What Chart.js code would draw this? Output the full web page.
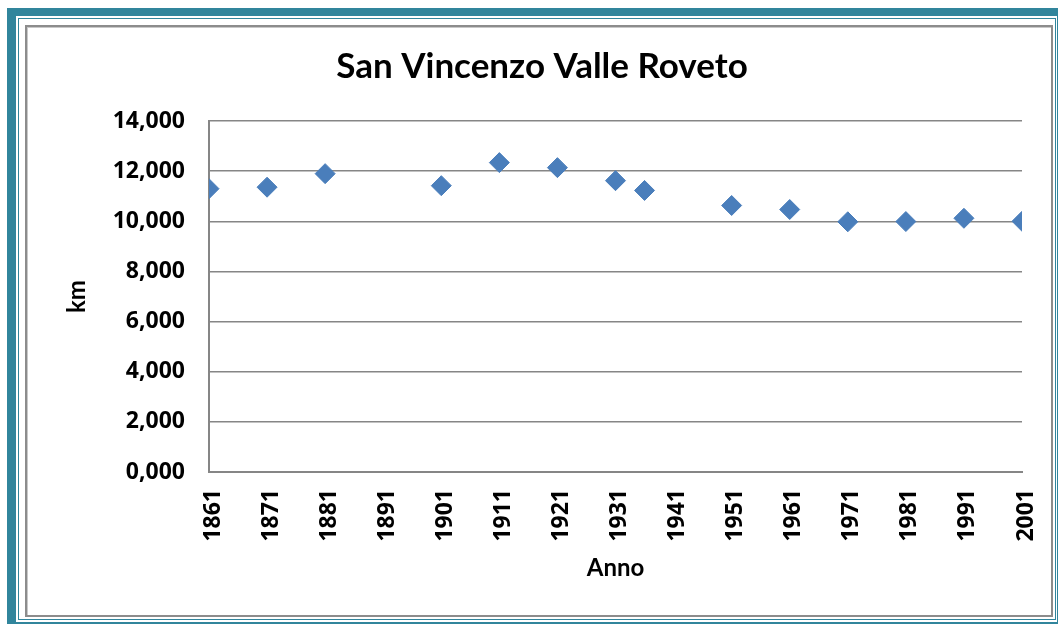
<!DOCTYPE html>
<html>
<head>
<meta charset="utf-8">
<script src="https://cdn.jsdelivr.net/npm/chart.js@4"></script>
<style>
  html, body { margin: 0; padding: 0; background: #ffffff; }
  #wrap { position: relative; width: 1058px; height: 624px; overflow: hidden; }
  .b { position: absolute; box-sizing: border-box; }
  #outer { left: 7px; top: 8px; width: 1051px; height: 616px;
           border-style: solid; border-color: #31859C; border-width: 8px 1px 2px 9px; }
  #thin { left: 18px; top: 18px; width: 1038px; height: 602px; border: 1px solid #31859C; }
  #gray { left: 25px; top: 25px; width: 1028px; height: 592px;
          border: 2px solid #8c8c8c; box-shadow: inset 1px 1px 0 #c8c8c8; }
  canvas { position: absolute; left: 0; top: 0; }
</style>
</head>
<body>
<div id="wrap">
  <div class="b" id="outer"></div>
  <div class="b" id="thin"></div>
  <div class="b" id="gray"></div>
  <canvas id="c" width="1058" height="624"></canvas>
</div>
<script>
const chartTitle = 'San Vincenzo Valle Roveto';
const xTitle = 'Anno';
const yTitle = 'km';
const years = [1861, 1871, 1881, 1901, 1911, 1921, 1931, 1936, 1951, 1961, 1971, 1981, 1991, 2001];
const values = [11.30, 11.36, 11.90, 11.42, 12.34, 12.14, 11.62, 11.23, 10.63, 10.47, 9.98, 9.99, 10.12, 10.00];
const xTicks = [1861, 1871, 1881, 1891, 1901, 1911, 1921, 1931, 1941, 1951, 1961, 1971, 1981, 1991, 2001];
const yTicks = [0, 2, 4, 6, 8, 10, 12, 14];

const gridGray = '#868686';
const tickFont = { family: 'Open Sans', weight: 'bold', size: 23 };
const titleFont = { family: 'Lato', weight: 'bold', size: 24 };

new Chart(document.getElementById('c'), {
  type: 'scatter',
  data: {
    datasets: [{
      data: years.map((y, i) => ({ x: y, y: values[i] })),
      pointStyle: 'rectRot',
      pointRadius: 10,
      pointHoverRadius: 10,
      backgroundColor: '#4A7EBB',
      borderColor: '#4A7EBB',
      borderWidth: 1
    }]
  },
  options: {
    responsive: false,
    animation: false,
    devicePixelRatio: 1,
    layout: { padding: { left: 62, right: 36, top: 38, bottom: 30 } },
    plugins: {
      legend: { display: false },
      tooltip: { enabled: false },
      title: {
        display: true,
        text: chartTitle,
        color: '#000000',
        font: { family: 'Lato', weight: 'bold', size: 35 },
        padding: { top: 8, bottom: 33 }
      }
    },
    scales: {
      x: {
        type: 'linear',
        min: 1861,
        max: 2001,
        afterBuildTicks: (s) => { s.ticks = xTicks.map(v => ({ value: v })); },
        afterFit: (s) => { s.height = 122; s.paddingLeft = 0; s.paddingRight = 0; },
        ticks: {
          autoSkip: false,
          maxRotation: 90,
          minRotation: 90,
          padding: 17,
          labelOffset: 4,
          color: '#000000',
          font: tickFont,
          callback: (v) => String(v)
        },
        grid: { display: false, drawTicks: false },
        border: { display: true, color: gridGray, width: 2 },
        title: {
          display: true, text: xTitle, color: '#000000', font: titleFont,
          padding: { top: 0, bottom: 11 }
        }
      },
      y: {
        min: 0,
        max: 14,
        afterBuildTicks: (s) => { s.ticks = yTicks.map(v => ({ value: v })); },
        afterFit: (s) => { s.width = 147; },
        ticks: {
          padding: 24,
          color: '#000000',
          font: tickFont,
          callback: (v) => v.toFixed(3).replace('.', ',')
        },
        grid: { color: gridGray, lineWidth: 1.5, drawTicks: false },
        border: { display: true, color: gridGray, width: 2 },
        title: {
          display: true, text: yTitle, color: '#000000', font: titleFont,
          padding: { top: 1, bottom: 0 }
        }
      }
    }
  }
});
</script>
</body>
</html>
